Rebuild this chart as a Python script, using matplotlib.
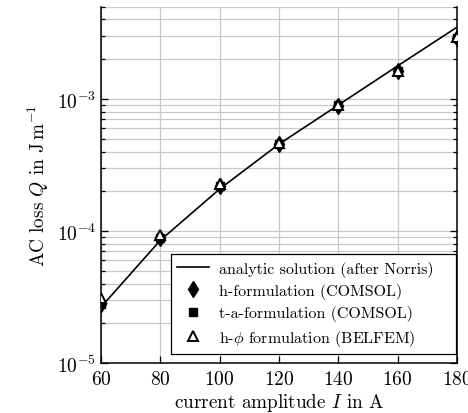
import matplotlib
matplotlib.use("Agg")
import matplotlib.pyplot as plt
from matplotlib.ticker import LogLocator, NullFormatter

# current amplitude in A
current = [60, 80, 100, 120, 140, 160, 180]
# AC loss in J/m
q_norris = [2.65e-5, 8.5e-5, 2.08e-4, 4.55e-4, 9.0e-4, 1.78e-3, 3.5e-3]
q_h = [2.8e-5, 8.9e-5, 2.2e-4, 4.55e-4, 8.9e-4, 1.62e-3, 2.88e-3]
q_ta = [2.8e-5, 8.9e-5, 2.2e-4, 4.57e-4, 8.95e-4, 1.63e-3, 2.9e-3]
q_hphi = [3.1e-5, 9.3e-5, 2.25e-4, 4.62e-4, 9.0e-4, 1.64e-3, 2.95e-3]

plt.rcParams["font.family"] = "cmr10"
plt.rcParams["mathtext.fontset"] = "cm"
plt.rcParams["axes.formatter.use_mathtext"] = True

fig = plt.figure(figsize=(4.68, 4.14), dpi=100)
ax = fig.add_axes([0.2158, 0.1208, 0.7607, 0.8606])

# trailing spaces widen the legend box on the right like the original
ax.plot(current, q_norris, color="black", lw=1.2,
        label="analytic solution (after Norris)   ", zorder=3)
ax.plot(current, q_h, ls="none", marker="d", ms=8, color="black",
        label="h-formulation (COMSOL)", zorder=4)
ax.plot(current, q_ta, ls="none", marker="s", ms=5.5, color="black",
        label="t-a-formulation (COMSOL)", zorder=4)
ax.plot(current, q_hphi, ls="none", marker="^", ms=7.5, mfc="white", mec="black", mew=1.4,
        label=r"h-$\phi$ formulation (BELFEM)", zorder=5)

ax.set_yscale("log")
ax.set_xlim(60, 180)
ax.set_ylim(1e-5, 5e-3)
ax.set_xticks([60, 80, 100, 120, 140, 160, 180])
ax.yaxis.set_major_locator(LogLocator(base=10, numticks=10))
ax.yaxis.set_minor_locator(LogLocator(base=10, subs=range(2, 10), numticks=20))
ax.yaxis.set_minor_formatter(NullFormatter())

ax.grid(True, which="major", color="#c8c8c8", lw=0.9)
ax.grid(True, which="minor", axis="y", color="#c8c8c8", lw=0.9)
ax.set_axisbelow(True)

ax.spines["top"].set_visible(False)
for s in ("left", "right", "bottom"):
    ax.spines[s].set_linewidth(1.1)
ax.tick_params(which="both", direction="in", right=True, top=False, labelsize=14, width=0.9)
ax.tick_params(which="major", length=5)
ax.tick_params(which="minor", length=3)
ax.tick_params(axis="x", pad=5)

ax.set_xlabel(r"current amplitude $I$ in A", fontsize=13.8, labelpad=2)
ax.set_ylabel(r"AC loss $Q$ in J$\,$m$^{-1}$", fontsize=13.8, labelpad=4)

leg = ax.legend(loc="lower right", bbox_to_anchor=(0.996, 0.025), fontsize=11.5,
                frameon=True, fancybox=False, framealpha=1, edgecolor="black",
                borderaxespad=0, borderpad=0.4, handlelength=2.0, handletextpad=0.6,
                labelspacing=0.4)
leg.get_frame().set_linewidth(0.9)

fig.savefig("out.png", dpi=100)
